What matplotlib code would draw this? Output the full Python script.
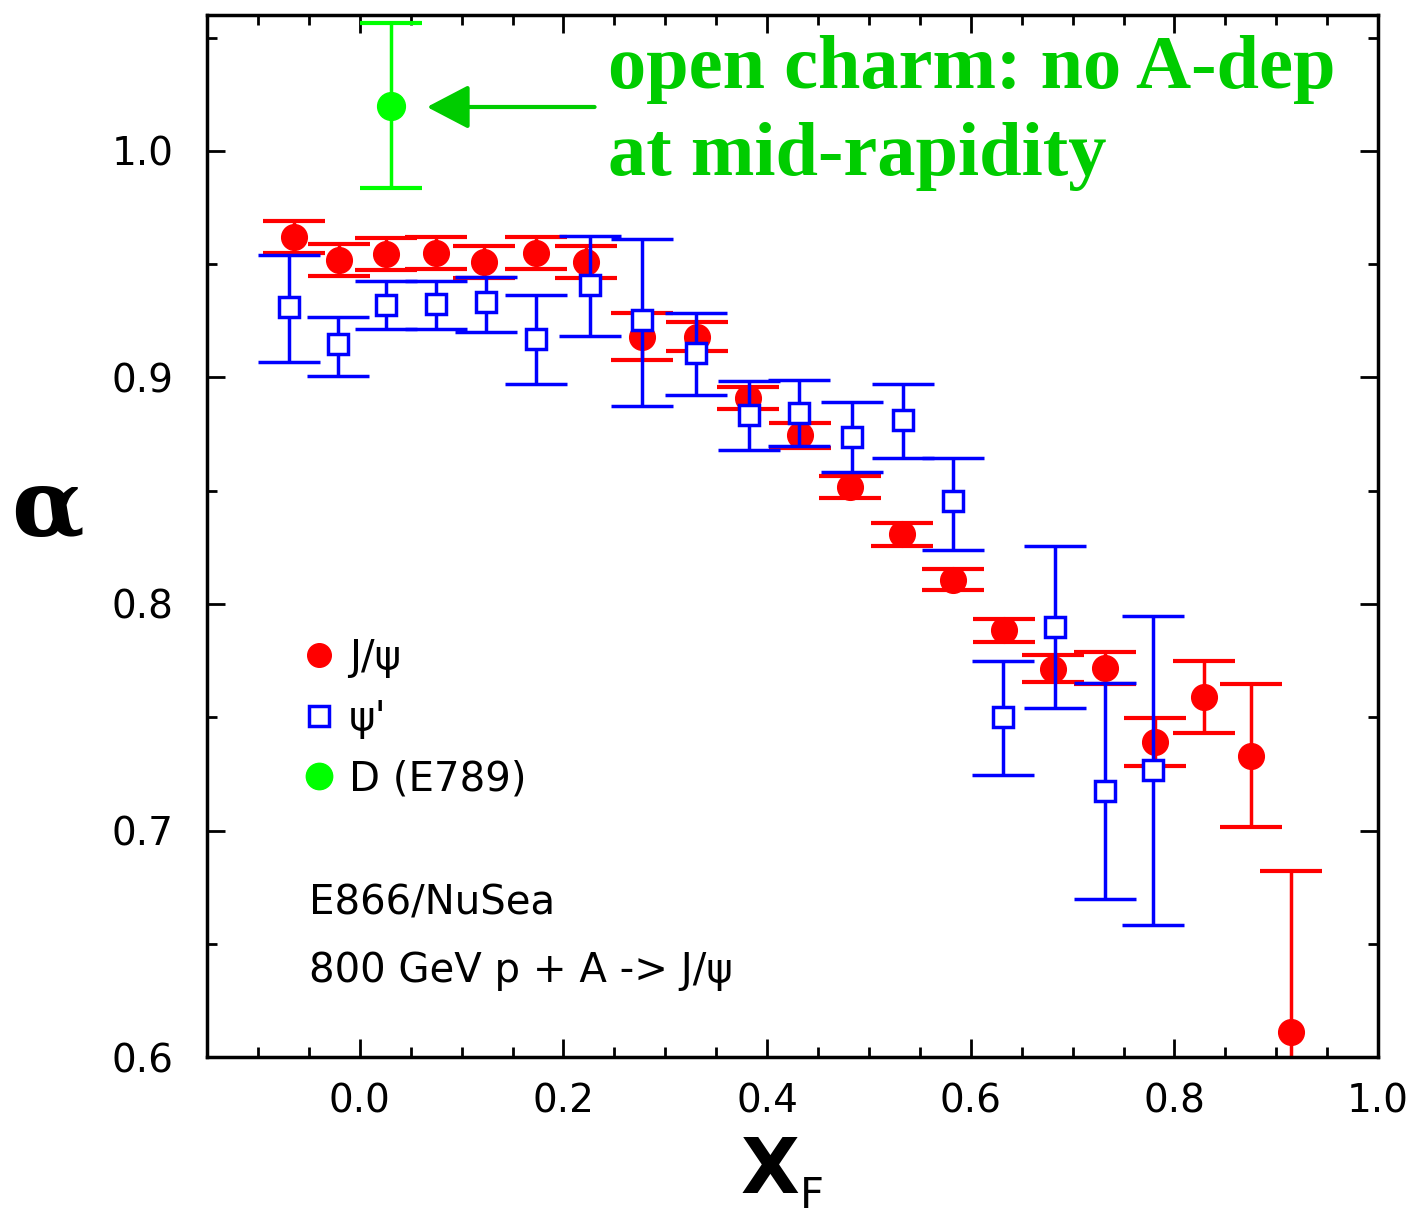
import matplotlib.pyplot as plt
from matplotlib.lines import Line2D
from matplotlib.ticker import MultipleLocator, FormatStrFormatter

# J/psi (E866/NuSea)
jpsi_x = [-0.065, -0.020, 0.026, 0.075, 0.122, 0.173, 0.222, 0.277, 0.331, 0.381,
          0.432, 0.481, 0.532, 0.583, 0.633, 0.681, 0.732, 0.781, 0.829, 0.875, 0.914]
jpsi_a = [0.962, 0.952, 0.9545, 0.955, 0.951, 0.955, 0.951, 0.918, 0.918, 0.891,
          0.8745, 0.8516, 0.8307, 0.8108, 0.7883, 0.7714, 0.7718, 0.739, 0.759, 0.733, 0.611]
jpsi_err = [0.007, 0.007, 0.007, 0.007, 0.007, 0.007, 0.007, 0.0105, 0.0065, 0.005,
            0.0055, 0.005, 0.005, 0.0045, 0.005, 0.006, 0.007, 0.0105, 0.016, 0.0315, 0.071]

# psi'
psip_x = [-0.069, -0.021, 0.026, 0.075, 0.124, 0.173, 0.226, 0.277, 0.330, 0.382,
          0.431, 0.483, 0.533, 0.583, 0.6315, 0.683, 0.732, 0.779]
psip_a = [0.931, 0.9146, 0.932, 0.9324, 0.9334, 0.9169, 0.9408, 0.9253, 0.9106, 0.8836,
          0.8843, 0.8737, 0.8811, 0.8453, 0.750, 0.7897, 0.7176, 0.7267]
psip_lo = [0.9069, 0.9006, 0.9216, 0.9216, 0.920, 0.897, 0.9184, 0.8873, 0.8922, 0.8678,
           0.8698, 0.8583, 0.8646, 0.824, 0.7246, 0.754, 0.6698, 0.6583]
psip_hi = [0.954, 0.9265, 0.9427, 0.9427, 0.9444, 0.9362, 0.9624, 0.961, 0.9283, 0.8986,
           0.8988, 0.8892, 0.8973, 0.8646, 0.775, 0.8256, 0.7649, 0.7945]

# D (E789) open charm
d_x = [0.031]
d_a = [1.020]
d_lo = [0.9835]
d_hi = [1.0567]

legend_labels = ['J/ψ', "ψ'", 'D (E789)']

plt.rcParams['font.family'] = ['DejaVu Sans']

fig = plt.figure(figsize=(14.11, 12.22), dpi=100)
ax = fig.add_axes([0.1467, 0.135, 0.83, 0.8527])

ax.errorbar(jpsi_x, jpsi_a, yerr=jpsi_err, fmt='o', color='#ff0000', ms=18.5,
            lw=2.5, capsize=22, capthick=3, zorder=2)

psip_err = [[a - l for a, l in zip(psip_a, psip_lo)],
            [h - a for a, h in zip(psip_a, psip_hi)]]
ax.errorbar(psip_x, psip_a, yerr=psip_err, fmt='s', color='#0000ff', mfc='white',
            mec='#0000ff', mew=2.5, ms=15, lw=2.5, capsize=22, capthick=3, zorder=3)

d_err = [[a - l for a, l in zip(d_a, d_lo)], [h - a for a, h in zip(d_a, d_hi)]]
ax.errorbar(d_x, d_a, yerr=d_err, fmt='o', color='#00ff00', ms=20,
            lw=2.5, capsize=22, capthick=3, zorder=4)

ax.set_xlim(-0.15, 1.0)
ax.set_ylim(0.6, 1.06)
ax.xaxis.set_major_locator(MultipleLocator(0.2))
ax.xaxis.set_minor_locator(MultipleLocator(0.05))
ax.yaxis.set_major_locator(MultipleLocator(0.1))
ax.yaxis.set_minor_locator(MultipleLocator(0.05))
ax.xaxis.set_major_formatter(FormatStrFormatter('%.1f'))
ax.yaxis.set_major_formatter(FormatStrFormatter('%.1f'))
ax.tick_params(which='both', direction='in', top=True, right=True, width=2)
ax.tick_params(which='major', length=13, labelsize=28)
ax.tick_params(axis='x', which='major', pad=18)
ax.tick_params(axis='y', which='major', pad=24)
ax.tick_params(which='minor', length=7)
for s in ax.spines.values():
    s.set_linewidth(2.5)

# annotation
ax.annotate('', xy=(0.066, 1.0194), xytext=(0.2306, 1.0194),
            arrowprops=dict(arrowstyle='-|>,head_length=0.65,head_width=0.34',
                            mutation_scale=40, color='#00cc00', lw=3,
                            shrinkA=0, shrinkB=0))
ax.text(0.244, 1.0278, 'open charm: no A-dep', color='#00cc00', fontsize=55,
        fontweight='bold', family='Liberation Serif', va='baseline', ha='left')
ax.text(0.244, 0.9894, 'at mid-rapidity', color='#00cc00', fontsize=55,
        fontweight='bold', family='Liberation Serif', va='baseline', ha='left')

handles = [Line2D([], [], marker='o', color='#ff0000', ls='none', ms=17),
           Line2D([], [], marker='s', mfc='white', mec='#0000ff', mew=2.5, ls='none', ms=15),
           Line2D([], [], marker='o', color='#00ff00', ls='none', ms=19)]
ax.legend(handles, legend_labels, loc='upper left', bbox_to_anchor=(0.085, 0.402),
          frameon=False, fontsize=29, handlelength=0.6, handletextpad=0.45,
          labelspacing=0.51, borderpad=0, borderaxespad=0)

ax.text(-0.0497, 0.6676, 'E866/NuSea', fontsize=29, va='center', ha='left')
ax.text(-0.0497, 0.638, '800 GeV p + A -> J/ψ', fontsize=29, va='center', ha='left')

fig.text(0.034, 0.5826, 'α', fontsize=68, fontweight='bold', family='DejaVu Serif',
         ha='center', va='center')
fig.text(0.5457, 0.041, 'X', fontsize=55, fontweight='bold', ha='center', va='center')
fig.text(0.5755, 0.0045, 'F', fontsize=30, ha='center', va='bottom')

fig.savefig('out.png', dpi=100)
